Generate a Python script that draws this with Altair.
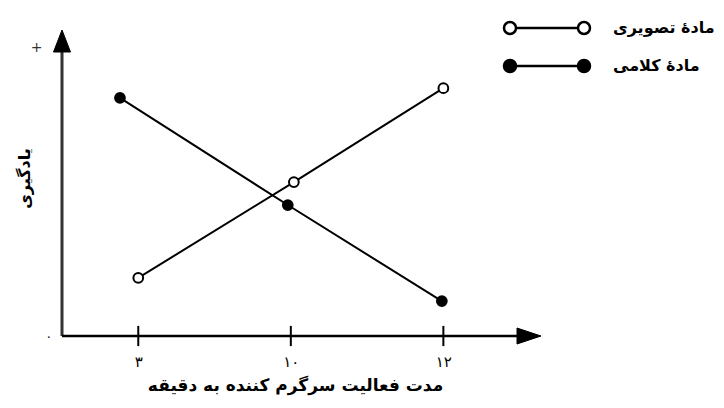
import altair as alt
import pandas as pd

# ---- data ----
series_names = ["مادهٔ تصویری", "مادهٔ کلامی"]
tick_positions = [1, 2, 3]
tick_labels = ["۳", "۱۰", "۱۲"]
visual_x = [1.0, 2.02, 3.0]
visual_y = [1.90, 5.03, 8.10]
verbal_x = [0.88, 1.98, 2.99]
verbal_y = [7.78, 4.28, 1.14]
y_axis_values = [0, 9.44]
y_axis_labels = ["۰", "+"]
x_title = "مدت فعالیت سرگرم کننده به دقیقه"
y_title = "یادگیری"

X_DOMAIN = [0.5, 3.64]
Y_DOMAIN = [0, 10]
FONT = "DejaVu Sans"

points = pd.DataFrame({
    "x": visual_x + verbal_x,
    "y": visual_y + verbal_y,
    "series": [series_names[0]] * len(visual_x) + [series_names[1]] * len(verbal_x),
})
yaxis_line = pd.DataFrame({"x": [X_DOMAIN[0]], "y": [0], "y2": [9.28]})
xaxis_line = pd.DataFrame({"x": [X_DOMAIN[0]], "x2": [3.5], "y": [0]})
ticks_df = pd.DataFrame({"x": tick_positions, "y": [-0.33] * 3, "y2": [0.33] * 3})
up_arrow = pd.DataFrame({"x": [X_DOMAIN[0]], "y": [Y_DOMAIN[1]]})
right_arrow = pd.DataFrame({"x": [X_DOMAIN[1]], "y": [0]})


def expr_map(values, labels):
    parts = [f"datum.value == {v} ? '{l}' : " for v, l in zip(values[:-1], labels[:-1])]
    return "".join(parts) + f"'{labels[-1]}'"


x_axis = alt.Axis(
    values=tick_positions, labelExpr=expr_map(tick_positions, tick_labels),
    domain=False, ticks=False, grid=False,
    labelFont=FONT, labelFontSize=15, labelColor="black", labelPadding=18,
    title=x_title, titleFont=FONT, titleFontSize=17, titleFontWeight="bold",
    titleColor="black", titlePadding=8, titleX=233,
)
y_axis = alt.Axis(
    values=y_axis_values, labelExpr=expr_map(y_axis_values, y_axis_labels),
    domain=False, ticks=False, grid=False,
    labelFont=FONT, labelFontSize=14, labelColor="#333",
    labelPadding={"condition": {"test": "datum.value > 5", "value": 20}, "value": 10},
    title=y_title, titleFont=FONT, titleFontSize=16, titleFontWeight="bold",
    titleColor="black", titleAngle=270, titleAlign="center", titleBaseline="middle",
    titleX=-38, titleY=148,
)

xs = alt.Scale(domain=X_DOMAIN, nice=False, zero=False)
ys = alt.Scale(domain=Y_DOMAIN, nice=False, zero=False)
X = alt.X("x:Q", scale=xs, axis=x_axis)
Y = alt.Y("y:Q", scale=ys, axis=y_axis)

yline = alt.Chart(yaxis_line).mark_rule(color="#333", strokeWidth=3).encode(
    x=X, y=Y, y2="y2:Q")
xline = alt.Chart(xaxis_line).mark_rule(color="black", strokeWidth=2.5).encode(
    x=X, x2="x2:Q", y=Y)
ticks = alt.Chart(ticks_df).mark_rule(color="black", strokeWidth=2).encode(
    x=X, y=Y, y2="y2:Q")
uparr = alt.Chart(up_arrow).mark_point(
    shape="M0,0L-8.5,22L8.5,22Z", size=4, filled=True, fill="black",
    stroke="black", strokeWidth=1, opacity=1).encode(x=X, y=Y)
rarr = alt.Chart(right_arrow).mark_point(
    shape="M0,0L-24,-8L-24,8Z", size=4, filled=True, fill="black",
    stroke="black", strokeWidth=1, opacity=1).encode(x=X, y=Y)

lines = alt.Chart(points).mark_line(color="black", strokeWidth=2).encode(
    x=X, y=Y, detail="series:N")

legend_symbol = ("M-31,0L31,0"
                 "M-43,0A6,6,0,1,0,-31,0A6,6,0,1,0,-43,0"
                 "M31,0A6,6,0,1,0,43,0A6,6,0,1,0,31,0")

dots = alt.Chart(points).mark_point(filled=True, size=95, opacity=1).encode(
    x=X, y=Y,
    fill=alt.Fill("series:N",
                  scale=alt.Scale(domain=series_names, range=["white", "black"]),
                  legend=alt.Legend(
                      title=None, orient="none", legendX=477, legendY=-10,
                      direction="vertical", symbolType=legend_symbol, symbolSize=4,
                      symbolStrokeColor="black", symbolStrokeWidth=2.5,
                      labelFont=FONT, labelFontWeight="bold", labelFontSize=16,
                      labelColor="black", labelOffset=58, labelLimit=0,
                      rowPadding=16, padding=0)),
    stroke=alt.value("black"),
    strokeWidth=alt.value(2),
)

chart = alt.layer(yline, xline, ticks, uparr, rarr, lines, dots).properties(
    width=479, height=306,
    autosize=alt.AutoSizeParams(type="none"),
    padding={"left": 54, "top": 22, "right": 175, "bottom": 64},
    background="white",
).configure_view(stroke=None)

chart.save("out.html", embed_options={"renderer": "svg", "actions": False})
